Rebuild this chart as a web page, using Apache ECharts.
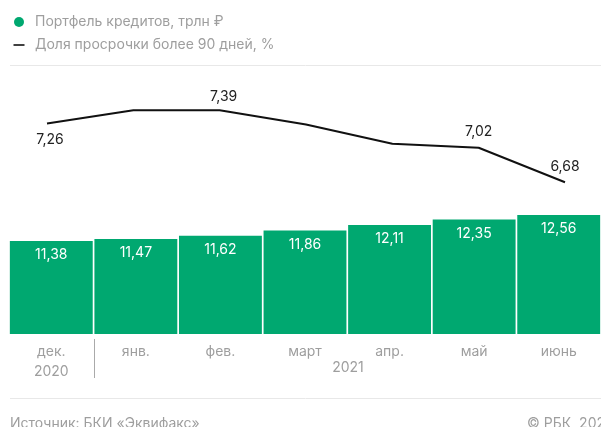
<!DOCTYPE html>
<html>
<head>
<meta charset="utf-8">
<script src="https://cdn.jsdelivr.net/npm/echarts@6/dist/echarts.min.js"></script>
<style>
html,body{margin:0;padding:0;background:#fff;}
#chart{width:601px;height:427px;}
</style>
</head>
<body>
<div id="chart"></div>
<script>
const categories = ['дек.\n2020', 'янв.', 'фев.', 'март', 'апр.', 'май', 'июнь'];
const portfolio = [11.38, 11.47, 11.62, 11.86, 12.11, 12.35, 12.56];
const overdue = [7.26, 7.39, 7.39, 7.25, 7.06, 7.02, 6.68];
const yearLabel2021 = '2021';
const seriesNames = ['Портфель кредитов, трлн ₽', 'Доля просрочки более 90 дней, %'];
const sourceText = 'Источник: БКИ «Эквифакс»';
const copyrightText = '© РБК, 2021';

const FONT = 'Inter, Roboto, "Noto Sans", sans-serif';
const GREEN = '#00a870';
const GRAY = '#9e9e9e';

// which line points carry a value label, and where
const lineLabelCfg = {
  0: { position: 'bottom', distance: 9, offset: [3, 0] },
  2: { position: 'top', distance: 6, offset: [4, 0] },
  5: { position: 'top', distance: 9, offset: [0, 0] },
  6: { position: 'top', distance: 8, offset: [0, 0] }
};

const fmt = v => String(v.toFixed(2)).replace('.', ',');

const lineData = overdue.map((v, i) => {
  const c = lineLabelCfg[i];
  return c ? { value: v, label: Object.assign({ show: true }, c) } : { value: v, label: { show: false } };
});

const chart = echarts.init(document.getElementById('chart'));
chart.setOption({
  animation: false,
  textStyle: { fontFamily: FONT },
  legend: {
    orient: 'vertical',
    left: 11,
    top: 14,
    padding: 0,
    itemWidth: 16,
    itemHeight: 10,
    itemGap: 7,
    textStyle: { color: GRAY, fontSize: 14, fontFamily: FONT, lineHeight: 16, padding: [0, 0, 0, 3] },
    data: [
      { name: seriesNames[0], icon: 'circle' },
      { name: seriesNames[1], icon: 'path://M0,0 M16,10 M2.5,4.2 H13.5 V5.8 H2.5 Z' }
    ]
  },
  grid: [
    { left: 9, right: 0, top: 70, bottom: 93 },
    { left: 47, right: 36, top: 70, bottom: 93 }
  ],
  xAxis: [
    {
      type: 'category', gridIndex: 0, data: categories,
      axisLine: { show: false }, axisTick: { show: false },
      axisLabel: { color: GRAY, fontSize: 14, fontFamily: FONT, margin: 8, lineHeight: 20, interval: 0 }
    },
    {
      type: 'category', gridIndex: 1, data: categories, boundaryGap: false, show: false
    }
  ],
  yAxis: [
    { type: 'value', gridIndex: 0, min: 7.15, max: 19.15, show: false, splitLine: { show: false } },
    { type: 'value', gridIndex: 1, min: 5.184, max: 7.787, show: false, splitLine: { show: false } }
  ],
  series: [
    {
      name: seriesNames[0], type: 'bar', xAxisIndex: 0, yAxisIndex: 0,
      data: portfolio, barCategoryGap: '2%',
      itemStyle: { color: GREEN },
      label: {
        show: true, position: 'insideTop', distance: 7,
        color: '#fff', fontSize: 14, fontFamily: FONT,
        formatter: p => fmt(p.value)
      }
    },
    {
      name: seriesNames[1], type: 'line', xAxisIndex: 1, yAxisIndex: 1,
      data: lineData, symbol: 'circle', symbolSize: 0.01, showSymbol: true, smooth: false,
      lineStyle: { color: '#111', width: 2 },
      itemStyle: { color: '#111' },
      label: { color: '#222', fontSize: 14, fontFamily: FONT, formatter: p => fmt(p.value) },
      z: 5
    }
  ],
  graphic: [
    { type: 'line', shape: { x1: 10, y1: 65.5, x2: 601, y2: 65.5 }, style: { stroke: '#e8e8e8', lineWidth: 1 } },
    { type: 'line', shape: { x1: 10, y1: 398.5, x2: 601, y2: 398.5 }, style: { stroke: '#e8e8e8', lineWidth: 1 } },
    { type: 'line', shape: { x1: 94.5, y1: 339, x2: 94.5, y2: 378 }, style: { stroke: '#aaaaaa', lineWidth: 1 } },
    { type: 'text', x: 348, y: 368, style: { text: yearLabel2021, fill: GRAY, font: '14px ' + FONT, textAlign: 'center', textVerticalAlign: 'middle' } },
    { type: 'text', x: 10, y: 424, style: { text: sourceText, fill: GRAY, font: '14px ' + FONT, textAlign: 'left', textVerticalAlign: 'middle' } },
    { type: 'text', x: 527, y: 424, style: { text: copyrightText, fill: GRAY, font: '14px ' + FONT, textAlign: 'left', textVerticalAlign: 'middle' } }
  ]
});
</script>
</body>
</html>
